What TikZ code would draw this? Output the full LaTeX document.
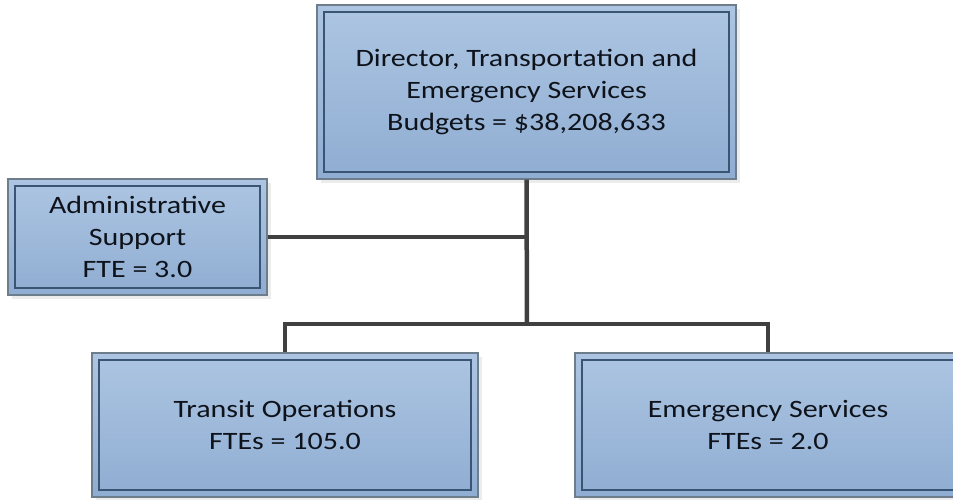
\documentclass[tikz,border=0pt]{standalone}
\usepackage{fontspec}
\setmainfont{Carlito}[FakeStretch=1.2]
\usetikzlibrary{shadows}
\definecolor{boxtop}{HTML}{ADC5E2}
\definecolor{boxbot}{HTML}{8FADD2}
\definecolor{outerc}{HTML}{6E7D8C}
\definecolor{innerc}{HTML}{3A5573}
\definecolor{linec}{HTML}{404040}
\definecolor{txtc}{HTML}{0E131B}
\begin{document}
\begin{tikzpicture}[x=1pt,y=-1pt,
  orgbox/.style={rectangle, draw=outerc, line width=1.3pt, top color=boxtop, bottom color=boxbot,
    text=txtc, align=center, font=\fontsize{25}{32}\selectfont, inner sep=0pt,
    drop shadow={shadow xshift=4pt, shadow yshift=-4pt, fill=black!25, opacity=0.3},
    path picture={\draw[innerc, line width=1.3pt]
      ([shift={(7pt,-7pt)}]path picture bounding box.north west) rectangle
      ([shift={(-7pt,7pt)}]path picture bounding box.south east);}},
  conn/.style={draw=linec, line width=4.5pt}]
\useasboundingbox (0,0) rectangle (953,500);
\clip (0,0) rectangle (953,500);
\node[orgbox, minimum width=419pt, minimum height=174pt] (top) at (526.5,92)
  {Director, Transportation and\\Emergency Services\\Budgets = \$38,208,633};
\node[orgbox, minimum width=259pt, minimum height=116pt] (admin) at (137.5,237)
  {Administrative\\Support\\FTE = 3.0};
\node[orgbox, minimum width=386pt, minimum height=144pt] (transit) at (285,425)
  {Transit Operations\\FTEs = 105.0};
\node[orgbox, minimum width=386pt, minimum height=144pt] (emerg) at (768,425)
  {Emergency Services\\FTEs = 2.0};
\coordinate (bar) at (527,324);
\draw[conn] (top.south) -- (bar);
\draw[conn] (admin.east) -- (admin.east -| top.south);
\draw[conn] (transit.north) |- (bar) -| (emerg.north);
\end{tikzpicture}
\end{document}
